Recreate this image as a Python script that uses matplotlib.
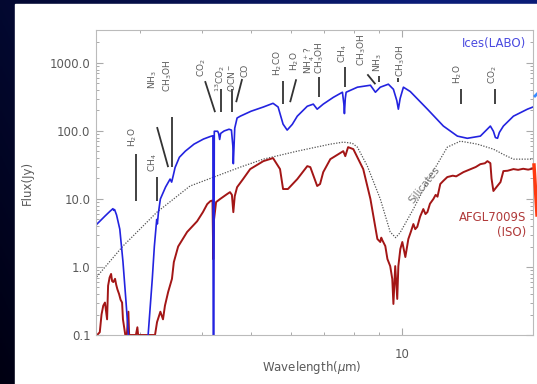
import numpy as np
import matplotlib
matplotlib.use('Agg')
import matplotlib.pyplot as plt
from matplotlib.patches import Rectangle
from matplotlib.lines import Line2D
from matplotlib.ticker import FixedLocator, FixedFormatter, NullFormatter

# laboratory ice mixture (blue)
wl_ice = [2.445, 2.50, 2.56, 2.62, 2.655, 2.665, 2.675, 2.70, 2.74, 2.78, 2.82, 2.85, 2.87,
          3.10, 3.12, 3.18, 3.21, 3.245, 3.255, 3.27, 3.30, 3.38, 3.45, 3.475, 3.50, 3.53,
          3.60, 3.70, 3.85, 4.02, 4.15, 4.198, 4.205, 4.215, 4.225, 4.29, 4.31, 4.33, 4.35,
          4.42, 4.52, 4.57, 4.60, 4.61, 4.625, 4.64, 4.69, 4.76, 5.00, 5.29, 5.53, 5.66,
          5.79, 5.90, 6.04, 6.18, 6.47, 6.65, 6.77, 6.96, 7.29, 7.60, 7.65, 7.67, 7.70,
          7.73, 8.14, 8.64, 8.84, 9.04, 9.38, 9.60, 9.75, 9.82, 9.90, 10.05, 10.37, 11.22,
          12.07, 12.87, 13.47, 14.30, 14.97, 15.18, 15.32, 15.47, 15.60, 15.89, 16.64,
          17.74, 18.2]
flux_ice = [4.0, 4.7, 5.6, 6.6, 7.2, 6.8, 7.0, 5.8, 3.6, 1.2, 0.3, 0.1, 0.05,
            0.05, 0.1, 0.67, 2.0, 5.0, 4.3, 6.2, 10, 15, 19.6, 17.7, 22, 29,
            41, 50.5, 64, 76, 83, 85, 0.05, 0.05, 99, 99, 92, 75, 92,
            100, 106, 103, 60, 33, 60, 110, 155, 165, 195, 225, 255, 225,
            126, 103, 125, 165, 231, 248, 209, 248, 312, 371, 250, 180, 300,
            371, 440, 470, 371, 440, 487, 410, 280, 209, 300, 440, 380, 209,
            118, 84, 78, 84, 118, 99, 80, 78, 95, 118, 165,
            209, 225]

# AFGL7009S ISO spectrum (red)
wl_iso = [2.445, 2.47, 2.50, 2.52, 2.54, 2.56, 2.585, 2.597, 2.615, 2.633, 2.645, 2.66,
          2.681, 2.695, 2.71, 2.731, 2.75, 2.769, 2.78, 2.81, 2.83, 2.85, 2.86, 2.95,
          2.97, 2.98, 3.22, 3.25, 3.30, 3.34, 3.37, 3.42, 3.48, 3.51, 3.58, 3.73, 3.905,
          4.01, 4.09, 4.15, 4.19, 4.205, 4.22, 4.26, 4.34, 4.48, 4.54, 4.58, 4.61, 4.64,
          4.69, 4.82, 4.98, 5.29, 5.53, 5.71, 5.79, 5.92, 6.18, 6.47, 6.56, 6.77, 6.86,
          6.96, 7.19, 7.63, 7.70, 7.80, 7.99, 8.36, 8.64, 8.92, 9.04, 9.08, 9.12, 9.25,
          9.34, 9.46, 9.55, 9.60, 9.68, 9.77, 9.82, 9.91, 10.0, 10.14, 10.28, 10.40,
          10.52, 10.61, 10.71, 10.85, 11.01, 11.12, 11.22, 11.35, 11.53, 11.65, 11.75,
          11.90, 12.07, 12.29, 12.6, 12.8, 13.23, 13.6, 14.0, 14.30, 14.6, 14.77, 14.97,
          15.05, 15.18, 15.4, 15.68, 15.89, 16.2, 16.64, 17.0, 17.4, 17.8, 18.2]
flux_iso = [0.1, 0.1, 0.11, 0.2, 0.27, 0.3, 0.17, 0.53, 0.7, 0.79, 0.62, 0.6,
            0.67, 0.55, 0.47, 0.4, 0.33, 0.3, 0.17, 0.1, 0.1, 0.22, 0.1, 0.1,
            0.13, 0.1, 0.1, 0.155, 0.22, 0.17, 0.27, 0.43, 0.67, 1.18, 2.0, 3.27, 4.7,
            6.4, 8.4, 9.3, 9.5, 1.3, 5.0, 9.0, 10, 11.8, 12.6, 11.5, 6.4, 11,
            14.9, 19.6, 27.5, 36, 39.9, 27.5, 14, 14, 19.6, 30.4, 29.4, 15.5, 16.6,
            24.8, 38.5, 50.5, 42.6, 57.8, 54, 27.5, 10, 2.58, 2.33, 2.7, 2.5, 2.03,
            1.31, 1.03, 0.667, 0.286, 1.03, 0.339, 1.03, 1.84, 2.33, 1.4, 2.58, 3.3,
            4.28, 3.6, 3.9, 5.5, 7.11, 6.0, 6.42, 8.5, 10, 11.5, 10.8,
            16.6, 18.5, 21, 22, 21.5, 24.8, 27, 29.5, 32.5, 33.5, 36, 33.6,
            20, 13.1, 15, 17.7, 25.7, 26, 27.5, 26.8, 27.8, 27, 28]

# silicate model (dotted)
wl_sil = [2.445, 2.78, 3.25, 3.78, 4.76, 5.29, 6.18, 7.19, 7.63, 7.95, 8.14, 8.52, 9.04,
          9.46, 9.70, 9.90, 10.52, 11.37, 12.29, 13.05, 14.10, 15.18, 16.0, 16.64, 18.2]
flux_sil = [0.667, 2.03, 6.42, 15.5, 29.4, 38.5, 50.5, 64, 68.5, 66, 57.8, 30.4, 10,
            3.27, 2.7, 3.2, 7.11, 21.7, 57.8, 70.8, 64, 54, 44, 38.5, 38.5]

# band identifications: name, text position, bar from -> to
bands = [
    ('H$_2$O', 2.91, 58, (2.95, 45.6), (2.95, 9.3)),
    ('CH$_4$', 3.18, 25, (3.25, 21), (3.25, 9.3)),
    ('NH$_3$', 3.19, 410, (3.25, 114), (3.42, 29.4)),
    ('CH$_3$OH', 3.42, 380, (3.48, 158), (3.48, 29.4)),
    ('CO$_2$', 3.98, 617, (4.05, 540), (4.24, 189)),
    ('$^{13}$CO$_2$', 4.33, 380, (4.36, 410), (4.36, 189)),
    ('OCN$^-$', 4.58, 380, (4.585, 410), (4.585, 189)),
    ('CO', 4.87, 617, (4.80, 580), (4.67, 265)),
    ('H$_2$CO', 5.66, 638, (5.79, 540), (5.79, 248)),
    ('H$_2$O', 6.12, 755, (6.15, 575), (5.98, 265)),
    ('NH$_4^+$?', 6.54, 680, None, None),
    ('CH$_3$OH', 6.84, 680, (6.83, 613), (6.83, 312)),
    ('CH$_4$', 7.60, 1000, (7.70, 865), (7.70, 440)),
    ('CH$_3$OH', 8.32, 890, (8.52, 680), (8.84, 487)),
    ('NH$_3$', 8.92, 730, (9.0, 640), (9.0, 521)),
    ('CH$_3$OH', 9.91, 617, (9.82, 595), (9.82, 521)),
    ('H$_2$O', 12.87, 487, (13.11, 410), (13.11, 248)),
    ('CO$_2$', 15.11, 487, (15.32, 410), (15.32, 248)),
]

W, H = 537, 384
fig = plt.figure(figsize=(W / 100, H / 100), dpi=100)

# dark slide background with white panel
bg = fig.add_axes([0, 0, 1, 1])
xx, yy = np.meshgrid(np.linspace(0, 1, 200), np.linspace(1, 0, 150))
s = np.clip(0.3 * yy + 0.9 * xx, 0, 1)[..., None]
dark = np.array([0.0, 0.0, 0.07])
navy = np.array([0.04, 0.11, 0.47])
bg.imshow(dark + (navy - dark) * s, aspect='auto', extent=[0, 1, 0, 1])
bg.add_patch(Rectangle((15 / W, 0), 1, 1 - 4 / H, color='white'))
bg.set_xlim(0, 1)
bg.set_ylim(0, 1)
bg.axis('off')

ax = fig.add_axes([96 / W, 1 - 335 / H, 437 / W, 305 / H])
ax.set_xscale('log')
ax.set_yscale('log')

ax.plot(wl_sil, flux_sil, ls=(0, (1, 1.2)), color='#555555', lw=0.9)
ax.plot(wl_iso, flux_iso, color='#a31616', lw=1.4)
ax.plot(wl_ice, flux_ice, color='#2323e0', lw=1.2)

ax.set_xlim(2.457, 18.2)
ax.set_ylim(0.1, 3050)

gray = '#5a5a5a'
for name, tx, ty, b0, b1 in bands:
    ax.text(tx, ty, name, rotation=90, ha='center', va='bottom', fontsize=6.5, color=gray)
    if b0 is not None:
        ax.plot([b0[0], b1[0]], [b0[1], b1[1]], color='#333333', lw=1.3, solid_capstyle='butt')

ax.text(11.05, 16, 'Silicates', rotation=52, ha='center', va='center', fontsize=7.5, color='#777777')
ax.text(0.985, 0.955, 'Ices(LABO)', transform=ax.transAxes, ha='right', va='center',
        fontsize=8.5, color='#4a4ae0')
ax.text(0.985, 0.36, 'AFGL7009S\n(ISO)', transform=ax.transAxes, ha='right', va='center',
        fontsize=8.5, color='#b03a3a', linespacing=1.2, multialignment='right')

ax.yaxis.set_major_locator(FixedLocator([0.1, 1, 10, 100, 1000]))
ax.yaxis.set_major_formatter(FixedFormatter(['0.1', '1.0', '10.0', '100.0', '1000.0']))
ax.yaxis.set_minor_locator(FixedLocator([m * 10.0 ** e for e in range(-1, 4) for m in range(2, 10)]))
ax.yaxis.set_minor_formatter(NullFormatter())
ax.xaxis.set_major_locator(FixedLocator([10]))
ax.xaxis.set_major_formatter(FixedFormatter(['10']))
ax.xaxis.set_minor_locator(FixedLocator([3, 4, 5, 6, 7, 8, 9]))
ax.xaxis.set_minor_formatter(NullFormatter())

ax.tick_params(which='both', direction='in', top=True, right=True, color='#aaaaaa',
               labelcolor=gray, labelsize=8.5)
ax.tick_params(which='major', length=5, width=0.8)
ax.tick_params(which='minor', length=2.5, width=0.7)
ax.tick_params(axis='x', pad=9)
ax.tick_params(axis='y', pad=4)
for sp in ax.spines.values():
    sp.set_color('#bbbbbb')
    sp.set_linewidth(0.8)

ax.set_xlabel('Wavelength($\\mu$m)', fontsize=8.5, color=gray)
ax.xaxis.label.set_va('center')
ax.xaxis.set_label_coords(0.494, -0.108)
ax.set_ylabel('Flux(Jy)', fontsize=8.5, color=gray)
ax.yaxis.label.set_va('center')
ax.yaxis.set_label_coords(-0.156, 0.5)

# pointer marks running off the right edge
fig.add_artist(Line2D([534 / W, 1.0], [1 - 165 / H, 1 - 215 / H], color='#ff3a10', lw=2.5))
fig.add_artist(Line2D([535 / W, 1.0], [1 - 96 / H, 1 - 94 / H], color='#3a8cff', lw=2))

fig.savefig('out.png', dpi=100)
